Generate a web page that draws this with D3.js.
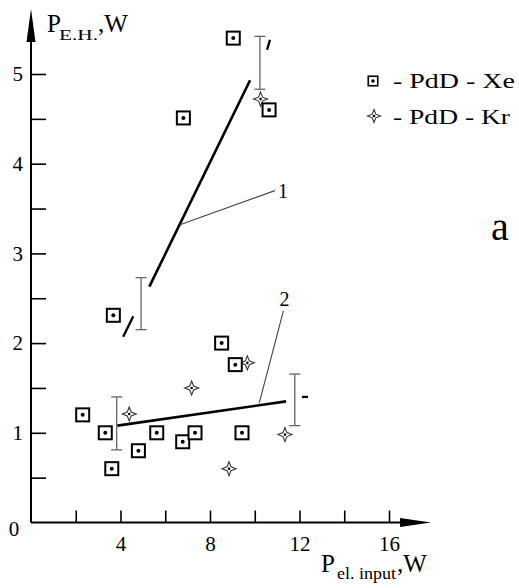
<!DOCTYPE html>
<html><head><meta charset="utf-8">
<script src="https://cdn.jsdelivr.net/npm/d3@7"></script>
<style>body{margin:0;background:#fff}svg{display:block}text{font-family:"Liberation Serif","Times New Roman",serif;fill:#000}</style>
</head><body><svg id="c" width="519" height="588"></svg>
<script>
// ---- data ----
const xeX = [9.04, 6.81, 10.64, 3.68, 2.31, 3.32, 4.80, 3.61, 5.62, 6.78, 7.33, 8.52, 9.13, 9.43];
const xeY = [5.40, 4.51, 4.60, 2.31, 1.20, 1.00, 0.80, 0.60, 1.00, 0.90, 1.00, 2.00, 1.76, 1.00];
const krX = [10.26, 4.39, 7.18, 9.67, 8.85, 11.35];
const krY = [4.72, 1.21, 1.50, 1.78, 0.60, 0.98];
const fit1 = [[5.29, 2.63], [9.79, 4.93]];
const fit1Ext = [[[4.12, 2.07], [4.57, 2.30]], [[10.55, 5.27], [10.68, 5.38]]];
const fit2 = [[3.86, 1.08], [11.40, 1.35]];
const fit2Ext = [[[12.11, 1.40], [12.38, 1.40]]];
const errX = [4.92, 10.23, 3.83, 11.79];
const errLo = [2.15, 4.83, 0.81, 1.08];
const errHi = [2.73, 5.42, 1.40, 1.655];
const leaders = [[[6.66, 3.32], [10.90, 3.70]], [[10.20, 1.33], [11.28, 2.36]]];
const leaderLabels = ["1", "2"];
const xTicks = [2, 4, 6, 8, 10, 12, 14, 16];
const xTickLabels = [4, 8, 12, 16];
const yTicks = [0.5, 1, 1.5, 2, 2.5, 3, 3.5, 4, 4.5, 5];
const yTickLabels = [1, 2, 3, 4, 5];
const legendNames = ["- PdD - Xe", "- PdD - Kr"];

// ---- chart ----
const svg = d3.select("#c");
const x = d3.scaleLinear().domain([0, 16]).range([31, 389]);
const y = d3.scaleLinear().domain([0, 5]).range([522.5, 74]);
const line = d3.line().x(d => x(d[0])).y(d => y(d[1]));

// axes
const gx = svg.append("g").attr("transform", `translate(0,${y(0)})`)
  .call(d3.axisBottom(x).tickValues(xTicks).tickSizeInner(-12).tickSizeOuter(0).tickPadding(14)
    .tickFormat(d => xTickLabels.includes(d) ? d : ""));
gx.select(".domain").remove();
gx.selectAll(".tick line").attr("stroke", "#000").attr("stroke-width", 1.6);
gx.selectAll(".tick text").attr("font-size", 21).attr("font-family", "Liberation Serif");

const gy = svg.append("g").attr("transform", `translate(${x(0)},0)`)
  .call(d3.axisLeft(y).tickValues(yTicks).tickSizeInner(-15).tickSizeOuter(0).tickPadding(8)
    .tickFormat(d => yTickLabels.includes(d) ? d : ""));
gy.select(".domain").remove();
gy.selectAll(".tick line").attr("stroke", "#000").attr("stroke-width", 1.6);
gy.selectAll(".tick text").attr("font-size", 21).attr("font-family", "Liberation Serif");

// axis lines with arrows
svg.append("line").attr("x1", x(0)).attr("y1", y(0)).attr("x2", 405).attr("y2", y(0)).attr("stroke", "#000").attr("stroke-width", 2);
svg.append("path").attr("d", `M400,${y(0)-4.5} L431,${y(0)} L400,${y(0)+4.5} Z`).attr("fill", "#000");
svg.append("line").attr("x1", x(0)).attr("y1", y(0)).attr("x2", x(0)).attr("y2", 35).attr("stroke", "#000").attr("stroke-width", 2);
svg.append("path").attr("d", `M${x(0)-4.5},42 L${x(0)},9 L${x(0)+4.5},42 Z`).attr("fill", "#000");
svg.append("text").attr("x", 14).attr("y", 535.5).attr("text-anchor", "middle").attr("font-size", 21).text("0");

// axis titles
svg.append("text").attr("x", 47).attr("y", 32).attr("font-size", 25).text("P");
svg.append("text").attr("x", 59).attr("y", 40).attr("font-size", 15).attr("textLength", 39).attr("lengthAdjust", "spacingAndGlyphs").text("E.H.");
svg.append("text").attr("x", 98).attr("y", 32).attr("font-size", 25).text(",W");
svg.append("text").attr("x", 321).attr("y", 572).attr("font-size", 25).text("P");
svg.append("text").attr("x", 337).attr("y", 579).attr("font-size", 16).attr("textLength", 59).attr("lengthAdjust", "spacingAndGlyphs").text("el. input");
svg.append("text").attr("x", 397).attr("y", 572).attr("font-size", 25).text(",W");

// error bars
const eb = svg.append("g").attr("stroke", "#666").attr("stroke-width", 1.3).attr("fill", "none");
errX.forEach((ex, i) => {
  eb.append("line").attr("x1", x(ex)).attr("x2", x(ex)).attr("y1", y(errLo[i])).attr("y2", y(errHi[i]));
  eb.append("line").attr("x1", x(ex) - 5.5).attr("x2", x(ex) + 5.5).attr("y1", y(errLo[i])).attr("y2", y(errLo[i]));
  eb.append("line").attr("x1", x(ex) - 5.5).attr("x2", x(ex) + 5.5).attr("y1", y(errHi[i])).attr("y2", y(errHi[i]));
});

// fit lines
[fit1, fit2].forEach(f => svg.append("path").attr("d", line(f)).attr("stroke", "#000").attr("stroke-width", 2.6).attr("fill", "none"));
fit1Ext.concat(fit2Ext).forEach(f => svg.append("path").attr("d", line(f)).attr("stroke", "#000").attr("stroke-width", 2.3).attr("fill", "none"));

// leaders
leaders.forEach(l => svg.append("path").attr("d", line(l)).attr("stroke", "#444").attr("stroke-width", 1.1).attr("fill", "none"));
svg.append("text").attr("x", x(leaders[0][1][0]) + 3).attr("y", y(leaders[0][1][1]) + 7).attr("font-size", 20).text(leaderLabels[0]);
svg.append("text").attr("x", x(leaders[1][1][0]) - 4).attr("y", y(leaders[1][1][1]) - 5).attr("font-size", 20).text(leaderLabels[1]);

// markers
function square(g, cx, cy, s, sw, r) {
  g.append("rect").attr("x", cx - s / 2).attr("y", cy - s / 2).attr("width", s).attr("height", s)
    .attr("fill", "#fff").attr("stroke", "#000").attr("stroke-width", sw);
  g.append("circle").attr("cx", cx).attr("cy", cy).attr("r", r).attr("fill", "#000");
}
function star(g, cx, cy, R) {
  const a = R * 0.28;
  g.append("path").attr("d", `M${cx},${cy-R} L${cx+a},${cy-a} L${cx+R},${cy} L${cx+a},${cy+a} L${cx},${cy+R} L${cx-a},${cy+a} L${cx-R},${cy} L${cx-a},${cy-a} Z`)
    .attr("fill", "#fff").attr("stroke", "#333").attr("stroke-width", 1.1);
  g.append("circle").attr("cx", cx).attr("cy", cy).attr("r", 1.3).attr("fill", "#000");
}
const mk = svg.append("g");
krX.forEach((v, i) => star(mk, x(v), y(krY[i]), 7));
xeX.forEach((v, i) => square(mk, x(v), y(xeY[i]), 13, 2, 2));

// legend
square(svg, 373, 81, 9.5, 1.6, 1.7);
star(svg, 374, 116, 6.5);
svg.append("text").attr("x", 393).attr("y", 87.5).attr("font-size", 21).attr("textLength", 122).attr("lengthAdjust", "spacingAndGlyphs").text(legendNames[0]);
svg.append("text").attr("x", 393).attr("y", 123.5).attr("font-size", 21).attr("textLength", 117).attr("lengthAdjust", "spacingAndGlyphs").text(legendNames[1]);

// panel letter
svg.append("text").attr("x", 491).attr("y", 240).attr("font-size", 40).text("a");
</script></body></html>
